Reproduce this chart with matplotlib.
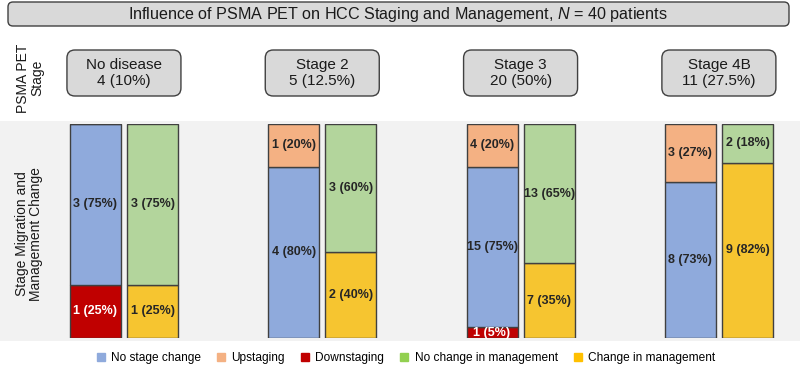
import numpy as np
import matplotlib.pyplot as plt
from matplotlib.patches import FancyBboxPatch, Rectangle
from matplotlib.lines import Line2D

plt.rcParams['font.family'] = ['Liberation Sans', 'DejaVu Sans']
plt.rcParams['mathtext.fontset'] = 'custom'
plt.rcParams['mathtext.it'] = 'Liberation Sans:italic'
plt.rcParams['mathtext.rm'] = 'Liberation Sans'

# data
stages = ['No disease', 'Stage 2', 'Stage 3', 'Stage 4B']
stage_n = [4, 5, 20, 11]
stage_pct = ['10%', '12.5%', '50%', '27.5%']

downstaging = [1, 0, 1, 0]
no_stage_change = [3, 4, 15, 8]
upstaging = [0, 1, 4, 3]
change_mgmt = [1, 2, 7, 9]
no_change_mgmt = [3, 3, 13, 2]

legend_labels = ['No stage change', 'Upstaging', 'Downstaging',
                 'No change in management', 'Change in management']
bar_colors = {'blue': '#8faadc', 'orange': '#f4b183', 'red': '#c00000',
              'green': '#b3d59c', 'yellow': '#f6c530'}
legend_colors = ['#8faadc', '#f4b183', '#c00000', '#92d050', '#ffc000']

W, H = 800, 367
fig = plt.figure(figsize=(W / 100, H / 100), dpi=100)

# overlay in pixel coords for boxes / band
ov = fig.add_axes([0, 0, 1, 1], zorder=0)
ov.set_xlim(0, W)
ov.set_ylim(0, H)
ov.axis('off')

# bars axes
ax = fig.add_axes([0, (H - 338) / H, 1, 214 / H], zorder=1)
ax.patch.set_alpha(0)
ax.set_xlim(-0.625, 3.409)
ax.set_ylim(0, 100)
ax.axis('off')

ov.add_patch(Rectangle((0, H - 341), W, 220, color='#f2f2f2', lw=0))

x = np.arange(len(stages))
n = np.array(stage_n, dtype=float)
bw = 0.257
off = 0.144
ec = '#404040'
txt = '#262626'


def seg(xpos, counts, bottoms, color, tcolor=txt):
    h = np.array(counts) / n * 100
    ax.bar(xpos, h, bw, bottom=bottoms, color=color, edgecolor=ec, lw=1)
    for i, c in enumerate(counts):
        if c == 0:
            continue
        ax.text(xpos[i], bottoms[i] + h[i] / 2, f'{c} ({round(h[i])}%)',
                ha='center', va='center', fontsize=9, fontweight='bold',
                color=tcolor)
    return bottoms + h


b = np.zeros(4)
b = seg(x - off, downstaging, b, bar_colors['red'], 'white')
b = seg(x - off, no_stage_change, b, bar_colors['blue'])
b = seg(x - off, upstaging, b, bar_colors['orange'])

b = np.zeros(4)
b = seg(x + off, change_mgmt, b, bar_colors['yellow'])
b = seg(x + off, no_change_mgmt, b, bar_colors['green'])

# title box
ov.add_patch(FancyBboxPatch((8, H - 26), 781, 24,
                            boxstyle='round,pad=0,rounding_size=5',
                            fc='#d9d9d9', ec=ec, lw=1))
ov.text(398, H - 14, r'Influence of PSMA PET on HCC Staging and Management, $N$ = 40 patients',
        ha='center', va='center', fontsize=11.6, color='#1a1a1a')

# stage boxes
for i, s in enumerate(stages):
    cx = ax.transData.transform((i, 0))[0]
    ov.add_patch(FancyBboxPatch((cx - 57, H - 96), 114, 46,
                                boxstyle='round,pad=0,rounding_size=8',
                                fc='#d9d9d9', ec=ec, lw=1))
    ov.text(cx, H - 73, f'{s}\n{stage_n[i]} ({stage_pct[i]})',
            ha='center', va='center', fontsize=11, color='#1a1a1a',
            linespacing=1.15)

ov.text(30, H - 78, 'PSMA PET\nStage', rotation=90, ha='center',
        va='center', fontsize=10, color='#1a1a1a', linespacing=1.0)
ov.text(29, H - 234, 'Stage Migration and\nManagement Change', rotation=90,
        ha='center', va='center', fontsize=10, color='#1a1a1a', linespacing=1.0)

handles = [Line2D([], [], marker='s', ls='', color=c, markersize=5.5)
           for c in legend_colors]
fig.legend(handles, legend_labels, loc='center', ncol=5, frameon=False,
           bbox_to_anchor=(405 / W, (H - 358) / H), fontsize=8.6,
           handletextpad=0.35, columnspacing=1.2, handlelength=1.0)

fig.savefig('out.png', dpi=100)
